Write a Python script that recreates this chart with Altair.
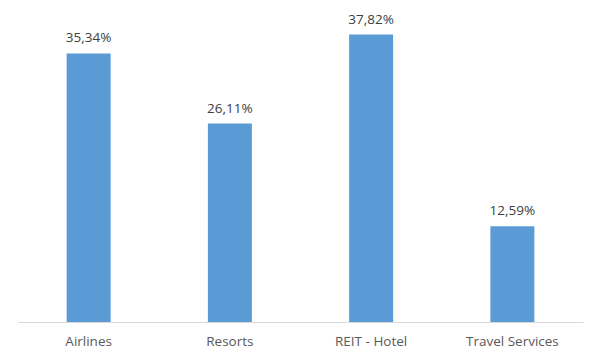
import altair as alt
import pandas as pd

categories = ["Airlines", "Resorts", "REIT - Hotel", "Travel Services"]
values = [35.34, 26.11, 37.82, 12.59]
labels = ["35,34%", "26,11%", "37,82%", "12,59%"]

df = pd.DataFrame({"cat": categories, "val": values, "lab": labels})

x = alt.X("cat:N", sort=categories, title=None,
          scale=alt.Scale(paddingInner=0.69, paddingOuter=0.345),
          axis=alt.Axis(labelAngle=0, ticks=False, domainColor="#D9D9D9", domainWidth=1,
                        labelFont="Open Sans", labelFontSize=13.5, labelColor="#595959",
                        labelPadding=12, grid=False))
y = alt.Y("val:Q", scale=alt.Scale(domain=[0, 40]), axis=None)

bars = alt.Chart(df).mark_bar(color="#5B9BD5", size=44).encode(x=x, y=y)
text = alt.Chart(df).mark_text(dy=-15, font="Open Sans", fontSize=13.5, color="#404040").encode(
    x=x, y=y, text="lab:N")

chart = (bars + text).properties(
    width=565, height=304,
    autosize=alt.AutoSizeParams(type="none"),
    padding={"left": 10, "top": 10, "right": 10, "bottom": 40},
).configure_view(stroke=None)

chart.save("out.html", embed_options={"renderer": "svg", "actions": False})
